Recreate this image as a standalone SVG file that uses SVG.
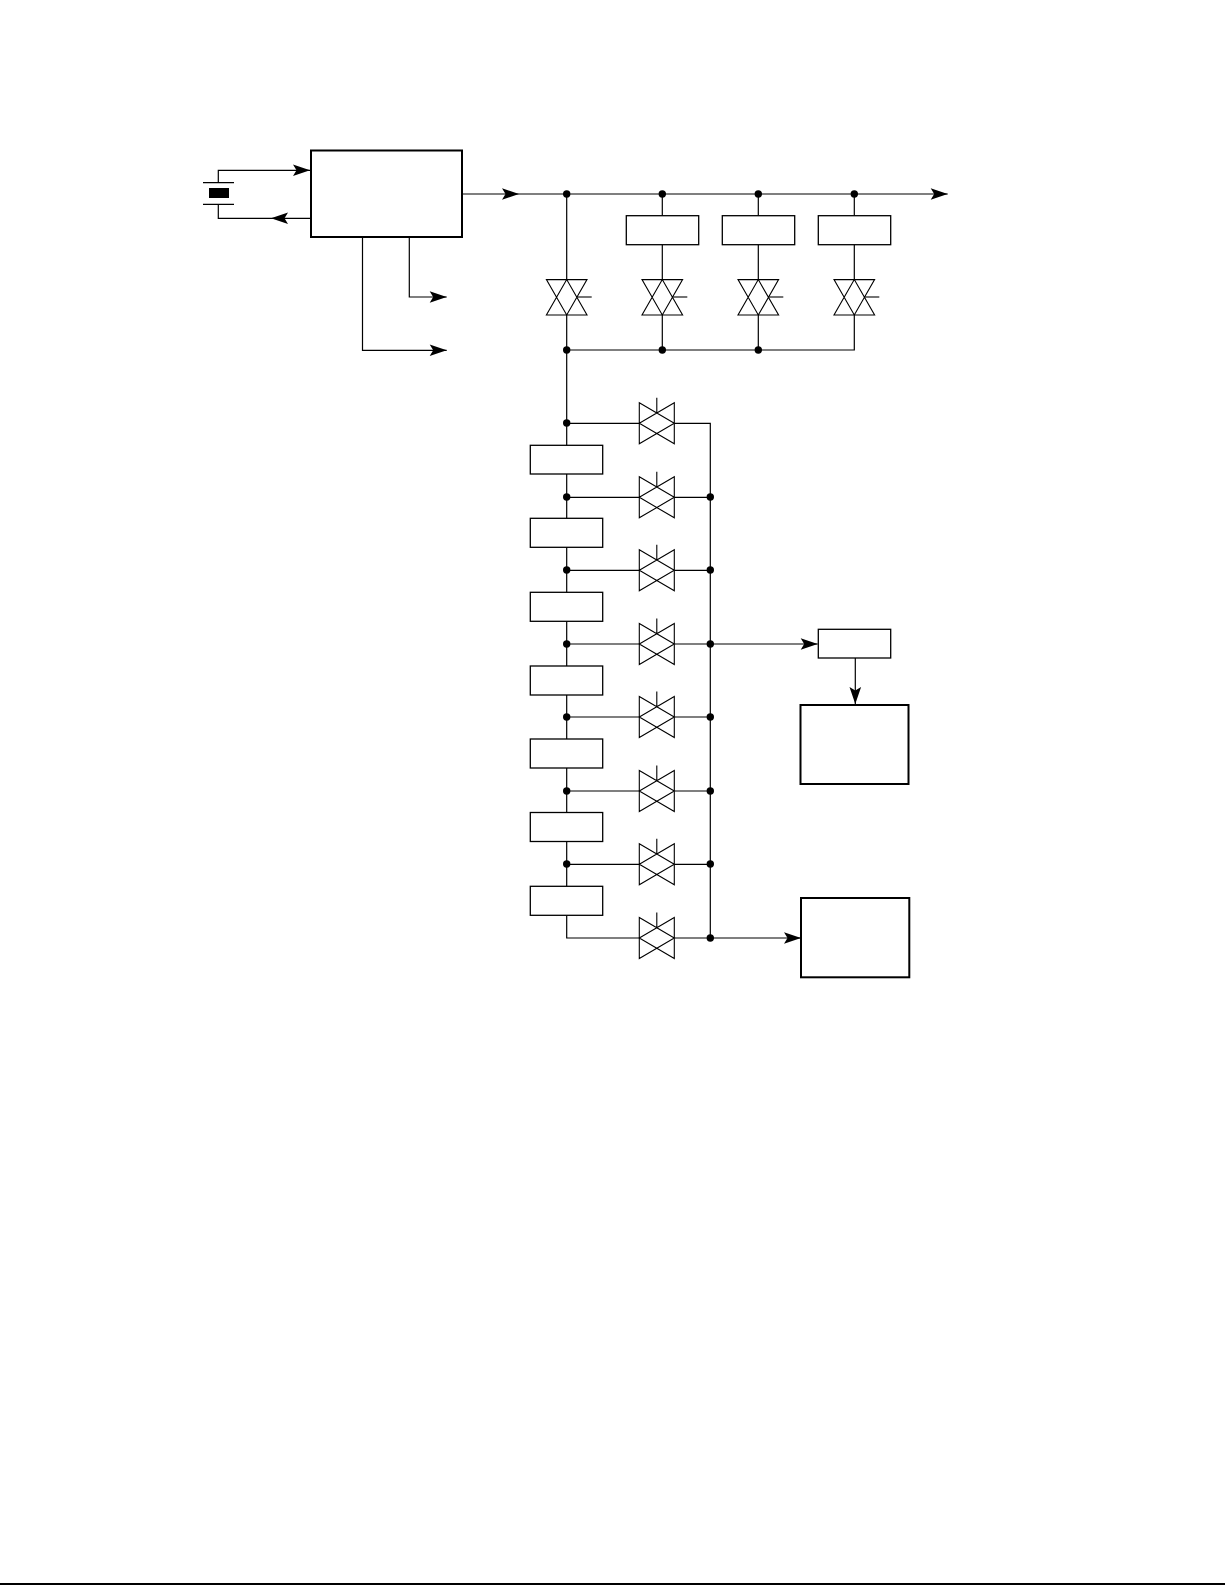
<svg xmlns="http://www.w3.org/2000/svg" xmlns:xlink="http://www.w3.org/1999/xlink" width="1225" height="1585" viewBox="0 0 1225 1585">
<style>
.w{fill:none;stroke:#000;stroke-width:1.2}
.b{fill:#fff;stroke:#000;stroke-width:1.3}
.B{fill:#fff;stroke:#000;stroke-width:2}
.d{fill:#000}
.v{fill:none;stroke:#000;stroke-width:1.1}
</style>
<defs>
<marker id="a" markerUnits="userSpaceOnUse" markerWidth="20" markerHeight="14" refX="18" refY="7" orient="auto"><path d="M18 7L1 1.200L4.500 7L1 12.800Z" fill="#000"/></marker>
<g id="vv"><path class="v" d="M-20.300-17.700H20.300L0 17.700ZM-20.300 17.700H20.300L0-17.700Z"/><path class="v" d="M10-0.300H25"/></g>
<g id="vh"><path class="v" d="M-17.500-20.500V20.500L17.500 0ZM17.500-20.500V20.500L-17.500 0ZM0-10.500V-25.500"/></g>
</defs>
<rect width="1225" height="1585" fill="#fff"/>
<g id="connectors" class="w">
<path d="M218.300 182.700V170.300H310" marker-end="url(#a)"/>
<path d="M218.300 204.300V218.300H271"/>
<path d="M310.700 218.300H271" marker-end="url(#a)"/>
<path d="M462 194H519" marker-end="url(#a)"/>
<path d="M519 194H947.700" marker-end="url(#a)"/>
<path d="M409.300 237V297H446.700" marker-end="url(#a)"/>
<path d="M362.500 237V350.300H446.700" marker-end="url(#a)"/>
<path d="M566.700 194V279.700M566.700 315V886.300"/>
<path d="M662.300 194V215.700M662.300 245V279.700M662.300 315V350"/>
<path d="M758.300 194V215.700M758.300 245V279.700M758.300 315V350"/>
<path d="M854.300 194V215.700M854.300 245V279.700M854.300 315V350H566.700"/>
<path d="M566.700 423.300H639.300M566.700 497.300H639.300M566.700 570.300H639.300M566.700 644H639.300M566.700 717H639.300M566.700 791H639.300M566.700 864.300H639.300"/>
<path d="M566.700 915.300V938H639.300"/>
<path d="M674.300 423.300H710.300V938M674.300 497.300H710.300M674.300 570.300H710.300M674.300 644H710.300M674.300 717H710.300M674.300 791H710.300M674.300 864.300H710.300M674.300 938H710.300"/>
<path d="M710.300 644H817.700" marker-end="url(#a)"/>
<path d="M710.300 938H801" marker-end="url(#a)"/>
<path d="M855.300 658V704" marker-end="url(#a)"/>
</g>
<g id="junctions" class="d">
<circle cx="566.700" cy="194" r="3.700"/><circle cx="662.300" cy="194" r="3.700"/><circle cx="758.300" cy="194" r="3.700"/><circle cx="854.300" cy="194" r="3.700"/>
<circle cx="566.700" cy="350" r="3.700"/><circle cx="662.300" cy="350" r="3.700"/><circle cx="758.300" cy="350" r="3.700"/>
<circle cx="566.700" cy="423" r="3.700"/><circle cx="566.700" cy="497" r="3.700"/><circle cx="566.700" cy="570" r="3.700"/><circle cx="566.700" cy="644" r="3.700"/><circle cx="566.700" cy="717" r="3.700"/><circle cx="566.700" cy="791" r="3.700"/><circle cx="566.700" cy="864" r="3.700"/>
<circle cx="710.300" cy="497" r="3.700"/><circle cx="710.300" cy="570" r="3.700"/><circle cx="710.300" cy="644" r="3.700"/><circle cx="710.300" cy="717" r="3.700"/><circle cx="710.300" cy="791" r="3.700"/><circle cx="710.300" cy="864" r="3.700"/><circle cx="710.300" cy="938" r="3.700"/>
</g>
<g id="crystal"><path class="w" d="M203 182.700H234M203 204.300H234"/><rect x="209" y="188" width="20" height="10" fill="#000"/></g>
<g id="oscillator"><rect class="B" x="311" y="150.500" width="151" height="86.500"/></g>
<g id="reg1"><rect class="b" x="626.300" y="215.700" width="72.400" height="29"/></g>
<g id="reg2"><rect class="b" x="722.300" y="215.700" width="72.400" height="29"/></g>
<g id="reg3"><rect class="b" x="818.300" y="215.700" width="72.400" height="29"/></g>
<g id="switch-v1"><use href="#vv" x="566.700" y="297.300"/></g>
<g id="switch-v2"><use href="#vv" x="662.300" y="297.300"/></g>
<g id="switch-v3"><use href="#vv" x="758.300" y="297.300"/></g>
<g id="switch-v4"><use href="#vv" x="854.300" y="297.300"/></g>
<g id="delay1"><rect class="b" x="530.300" y="445.300" width="72.400" height="28.700"/></g>
<g id="delay2"><rect class="b" x="530.300" y="518.300" width="72.400" height="29"/></g>
<g id="delay3"><rect class="b" x="530.300" y="592.300" width="72.400" height="29"/></g>
<g id="delay4"><rect class="b" x="530.300" y="666" width="72.400" height="29"/></g>
<g id="delay5"><rect class="b" x="530.300" y="739" width="72.400" height="29"/></g>
<g id="delay6"><rect class="b" x="530.300" y="812.500" width="72.400" height="29"/></g>
<g id="delay7"><rect class="b" x="530.300" y="886.300" width="72.400" height="29"/></g>
<g id="switch-h1"><use href="#vh" x="656.800" y="423.300"/></g>
<g id="switch-h2"><use href="#vh" x="656.800" y="497.300"/></g>
<g id="switch-h3"><use href="#vh" x="656.800" y="570.300"/></g>
<g id="switch-h4"><use href="#vh" x="656.800" y="644"/></g>
<g id="switch-h5"><use href="#vh" x="656.800" y="717"/></g>
<g id="switch-h6"><use href="#vh" x="656.800" y="791"/></g>
<g id="switch-h7"><use href="#vh" x="656.800" y="864.300"/></g>
<g id="switch-h8"><use href="#vh" x="656.800" y="938"/></g>
<g id="small-box"><rect class="b" x="818.300" y="629.300" width="72.400" height="28.700"/></g>
<g id="block-upper"><rect class="B" x="800.500" y="705" width="108" height="79"/></g>
<g id="block-lower"><rect class="B" x="801" y="898" width="108.300" height="79.300"/></g>
<path id="page-rule" d="M0 1584H1225" stroke="#000" stroke-width="2" fill="none"/>
</svg>
